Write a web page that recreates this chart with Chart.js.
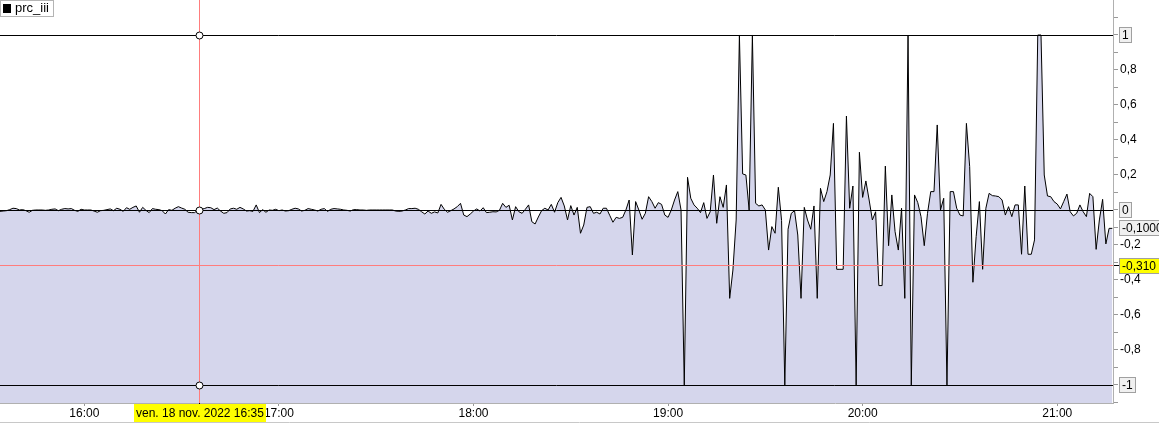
<!DOCTYPE html>
<html>
<head>
<meta charset="utf-8">
<script src="https://cdn.jsdelivr.net/npm/chart.js@4.4.0/dist/chart.umd.min.js"></script>
<style>
  body { margin: 0; background: #fff; }
  canvas { display: block; }
</style>
</head>
<body>
<canvas id="myChart" width="1159" height="423"></canvas>
<script>
'use strict';

// DATA
const seriesName = 'prc_iii';
const startMinute = 34; // minutes after 15:00, one point per minute
const values = [
  // 15:34 - 17:30, quiet part
  -0.008, -0.006, -0.004, 0.002, 0.01, 0.008, 0, 0.002, -0.004, -0.013,
  -0.002, 0, 0, 0, -0.002, 0, 0.004, 0.006, -0.004, 0.004,
  0.008, 0.006, 0.008, -0.002, -0.008, 0.004, 0, 0, 0, -0.006,
  -0.013, -0.004, -0.002, 0.002, 0.006, -0.004, 0.01, 0.004, -0.008, 0.013,
  0.004, 0.015, 0.023, -0.013, 0.015, -0.002, -0.015, 0.008, 0.004, 0.002,
  -0.004, -0.023, 0.002, -0.002, 0.01, 0.019, 0.011, 0.004, -0.013, -0.015,
  -0.015, 0, 0.004, 0.008, 0.015, 0.013, 0.002, 0.011, -0.006, -0.019,
  -0.015, 0.006, 0.01, 0.004, 0.015, 0.006, -0.006, -0.004, -0.008, 0.029,
  -0.015, 0.002, -0.013, 0, -0.002, 0.004, -0.004, 0, -0.006, -0.004,
  0.004, 0.01, 0.006, -0.006, -0.002, 0.008, 0.004, 0, -0.006, 0.004,
  0.008, -0.008, 0.004, 0.008, 0.006, 0.004, 0, -0.002, -0.006, 0.002,
  0.002, 0, 0, -0.002, 0, 0, 0,
  // 17:31 - 18:44
  0, 0, 0, 0, 0, -0.006, -0.008, -0.006, 0, 0.008,
  0.008, 0.01, 0.004, -0.01, -0.023, -0.006, -0.019, -0.011, -0.017, 0.032,
  0.004, -0.013, -0.004, 0.006, 0.019, 0.038, -0.029, -0.038, -0.023, -0.006,
  0.006, -0.006, 0.013, -0.015, -0.013, -0.01, -0.011, -0.002, 0.038, 0.015,
  0.027, -0.057, 0.019, -0.01, -0.019, 0.004, 0.029, -0.067, -0.08, -0.04,
  -0.004, 0.01, 0, 0.032, -0.013, 0.042, 0.072, 0.023, -0.057, 0.025,
  -0.029, 0.015, -0.133, -0.086, 0.015, 0.019, -0.019, -0.013, -0.023, 0.01,
  0.01, -0.03, -0.07, -0.042,
  // 18:45 - 19:34
  -0.048, -0.042, 0, 0.057, -0.257, 0.048, 0, -0.053, -0.019, 0.076,
  0.048, 0.01, 0.042, 0.032, -0.029, -0.042, 0, 0.057, 0.105, 0,
  -1, 0.187, 0.067, 0.029, 0.01, -0.015, 0.042, -0.048, -0.01, 0.2,
  -0.076, 0.076, 0.015, 0.143, -0.505, -0.343, -0.057, 1, 0.206, 0.2,
  0, 1, 0.038, 0.023, 0.029, 0, -0.229, -0.095, -0.133, 0.13,
  -0.06,
  // 19:36 - 20:22
  -1, -0.11, -0.019, -0.004, -0.143, -0.505, 0.015, -0.057, -0.11, 0.023,
  -0.505, 0.124, 0.048, 0.105, 0.2, 0.495, -0.339, -0.339, -0.339, 0.537,
  0.01, 0.137, -1, 0.33, 0.072, 0.166, 0.057, -0.057, -0.01, -0.432,
  -0.432, 0.251, -0.204, 0.086, -0.124, -0.229, 0.01, -0.505, 1, -1,
  0.086, 0.042, -0.038, -0.204, -0.019, 0.105, 0.105,
  // 20:23 - 21:17
  0.486, 0, 0.067, -1, 0.105, 0.105, 0.01, -0.029, -0.034, 0.495,
  0.248, -0.413, -0.152, 0.048, -0.339, 0.01, 0.095, 0.082, 0.08, 0.076,
  0.057, -0.029, 0.019, -0.038, 0.029, 0.029, -0.253, 0.137, -0.253, -0.253,
  -0.171, 1, 1, 0.2, 0.08, 0.076, 0.048, 0.034, 0.006, 0.048,
  0.091, -0.01, -0.034, -0.019, 0.029, -0.01, -0.038, 0.095, 0.076, -0.225,
  -0.057, 0.061, -0.194, -0.105, -0.105
];

const hourTicks = [60, 120, 180, 240, 300, 360];
const hourLabels = ['16:00', '17:00', '18:00', '19:00', '20:00', '21:00'];
const yLabelValues = [-0.8, -0.6, -0.4, -0.2, 0.2, 0.4, 0.6, 0.8];
const levelLines = [1, 0, -1];
const lastValueLabel = '-0,1000';
const crossTime = 95.4;       // 16:35
const crossValue = -0.315;
const crossValueLabel = '-0,310';
const crossTimeLabel = 'ven. 18 nov. 2022 16:35';

const FONT = '12px "Liberation Sans", Arial, sans-serif';

let points = [];
for (let i = 0; i < values.length; i++) {
  points.push({ x: startMinute + i, y: values[i] });
}

function boxLabel(ctx, text, px, py, bg) {
  ctx.font = FONT;
  let w = Math.ceil(ctx.measureText(text).width) + 5;
  let top = Math.round(py) - 7.5;
  ctx.fillStyle = bg;
  ctx.fillRect(px, top, w, 15);
  ctx.strokeStyle = '#a0a0a0';
  ctx.lineWidth = 1;
  ctx.strokeRect(px, top, w, 15);
  ctx.fillStyle = '#000';
  ctx.textBaseline = 'middle';
  ctx.textAlign = 'left';
  ctx.fillText(text, px + 2.5, Math.round(py) + 0.5);
}

const overlay = {
  id: 'overlay',
  afterDatasetsDraw(chart) {
    const { ctx, chartArea: a, scales: { x, y } } = chart;
    const cx = Math.round(x.getPixelForValue(crossTime)) + 0.5;
    const cy = Math.round(y.getPixelForValue(crossValue)) + 0.5;
    ctx.save();
    ctx.lineWidth = 1;
    // crosshair
    ctx.strokeStyle = '#ff7d7d';
    ctx.beginPath();
    ctx.moveTo(a.left, cy);
    ctx.lineTo(a.right, cy);
    ctx.moveTo(cx, a.top);
    ctx.lineTo(cx, a.bottom);
    ctx.stroke();
    // level lines
    ctx.strokeStyle = '#000';
    levelLines.forEach(v => {
      let py = Math.round(y.getPixelForValue(v)) + 0.5;
      ctx.beginPath();
      ctx.moveTo(a.left, py);
      ctx.lineTo(a.right, py);
      ctx.stroke();
    });
    levelLines.forEach(v => {
      let py = Math.round(y.getPixelForValue(v)) + 0.5;
      ctx.beginPath();
      ctx.arc(cx, py, 3.5, 0, Math.PI * 2);
      ctx.fillStyle = '#fff';
      ctx.fill();
      ctx.strokeStyle = '#000';
      ctx.stroke();
    });
    ctx.restore();
  },
  afterDraw(chart) {
    const { ctx, chartArea: a, scales: { x, y } } = chart;
    ctx.save();
    // legend
    ctx.fillStyle = '#fff';
    ctx.fillRect(0, 0, 54, 17);
    ctx.strokeStyle = '#b4b4b4';
    ctx.strokeRect(0.5, 0.5, 53, 16);
    ctx.fillStyle = '#000';
    ctx.fillRect(3, 4, 8, 9);
    ctx.font = '13px "Liberation Sans", Arial, sans-serif';
    ctx.textBaseline = 'middle';
    ctx.fillText(seriesName, 15, 8.5);

    // right axis boxed labels
    const bx = a.right + 6.5;
    boxLabel(ctx, '1', bx, y.getPixelForValue(1), '#f0f0f0');
    boxLabel(ctx, '0', bx, y.getPixelForValue(0), '#f0f0f0');
    boxLabel(ctx, '-1', bx, y.getPixelForValue(-1), '#f0f0f0');
    boxLabel(ctx, lastValueLabel, bx, y.getPixelForValue(values[values.length - 1]), '#f0f0f0');
    let cy = Math.round(y.getPixelForValue(crossValue)) + 0.5;
    ctx.strokeStyle = '#000';
    ctx.beginPath();
    ctx.moveTo(a.right + 1, cy);
    ctx.lineTo(a.right + 6, cy);
    ctx.stroke();
    boxLabel(ctx, crossValueLabel, bx, cy, '#ffff00');

    // bottom crosshair label
    let cx = Math.round(x.getPixelForValue(crossTime)) + 0.5;
    ctx.strokeStyle = '#000';
    ctx.beginPath();
    ctx.moveTo(cx, a.bottom);
    ctx.lineTo(cx, a.bottom + 4);
    ctx.stroke();
    ctx.font = FONT;
    let w = Math.ceil(ctx.measureText(crossTimeLabel).width) + 4;
    let left = Math.round(cx - w / 2);
    ctx.fillStyle = '#ffff00';
    ctx.fillRect(left, a.bottom + 1, w, 18);
    ctx.fillStyle = '#000';
    ctx.textAlign = 'left';
    ctx.textBaseline = 'middle';
    ctx.fillText(crossTimeLabel, left + 2, a.bottom + 10.5);

    // bottom frame line
    ctx.strokeStyle = '#c8c8c8';
    ctx.beginPath();
    ctx.moveTo(0, 422.5);
    ctx.lineTo(chart.width, 422.5);
    ctx.stroke();
    ctx.restore();
  }
};

Chart.defaults.font.family = '"Liberation Sans", Arial, sans-serif';
Chart.defaults.font.size = 12;
Chart.defaults.color = '#000';

const config = {
  type: 'line',
  data: {
    datasets: [
      {
        label: seriesName,
        data: points,
        borderColor: '#000',
        borderWidth: 1,
        backgroundColor: '#d5d6ec',
        fill: 'start',
        tension: 0,
        pointRadius: 0
      }
    ]
  },
  options: {
    responsive: false,
    animation: false,
    devicePixelRatio: 1,
    layout: { padding: 0 },
    plugins: {
      legend: { display: false },
      tooltip: { enabled: false }
    },
    scales: {
      x: {
        type: 'linear',
        min: 34,
        max: 377.2,
        afterFit: s => {
          s.height = 20;
          s.paddingLeft = 0;
          s.paddingRight = 0;
        },
        afterBuildTicks: s => { s.ticks = hourTicks.map(v => ({ value: v })); },
        ticks: {
          autoSkip: false,
          maxRotation: 0,
          padding: 0,
          callback: v => hourLabels[hourTicks.indexOf(v)] || ''
        },
        grid: { drawOnChartArea: false, tickLength: 3, color: '#999' },
        border: { color: '#b0b0b0' }
      },
      y: {
        position: 'right',
        min: -1.103,
        max: 1.2,
        afterFit: s => {
          s.width = 46;
          s.paddingTop = 0;
          s.paddingBottom = 0;
        },
        afterBuildTicks: s => {
          let t = [];
          for (let k = -11; k <= 11; k++) t.push({ value: k / 10 });
          s.ticks = t;
        },
        ticks: {
          autoSkip: false,
          padding: 2,
          callback: v => {
            let r = Math.round(v * 10) / 10;
            return yLabelValues.includes(r) ? r.toFixed(1).replace('.', ',') : '';
          }
        },
        grid: { drawOnChartArea: false, tickLength: 5, color: '#999' },
        border: { color: '#b0b0b0' }
      }
    }
  },
  plugins: [overlay]
};

const myChart = new Chart(document.getElementById('myChart'), config);
</script>
</body>
</html>
